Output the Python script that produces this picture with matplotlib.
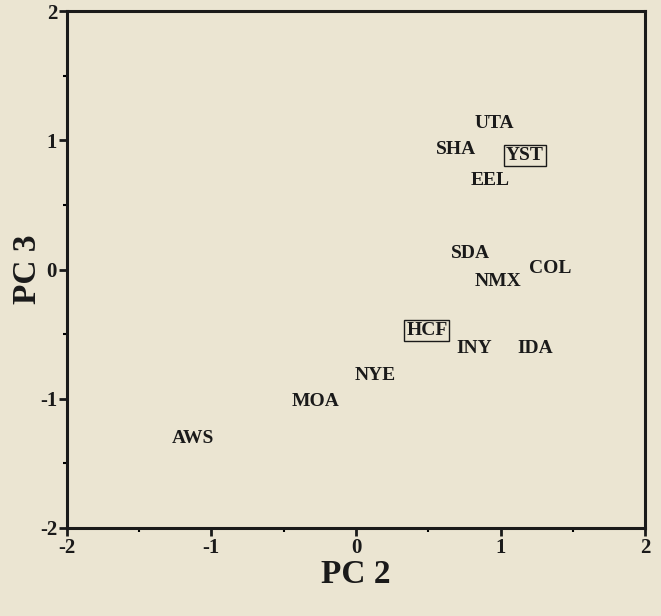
import matplotlib
matplotlib.use("Agg")
import matplotlib.pyplot as plt
from matplotlib.ticker import MultipleLocator

# population scores on PC 2 / PC 3
labels = ["UTA", "SHA", "YST", "EEL", "SDA", "NMX", "COL",
          "HCF", "INY", "IDA", "NYE", "MOA", "AWS"]
pc2 = [0.96, 0.69, 1.17, 0.93, 0.79, 0.98, 1.34,
       0.49, 0.82, 1.24, 0.13, -0.28, -1.13]
pc3 = [1.13, 0.93, 0.88, 0.69, 0.12, -0.09, 0.01,
       -0.47, -0.61, -0.61, -0.82, -1.02, -1.31]
boxed = ["YST", "HCF"]

bg = "#ebe5d2"
plt.rcParams["font.family"] = ["Liberation Serif", "DejaVu Serif"]
plt.rcParams["axes.unicode_minus"] = False

fig = plt.figure(figsize=(6.61, 6.16), dpi=100, facecolor=bg)
ax = fig.add_axes([0.101, 0.143, 0.875, 0.839])
ax.set_facecolor(bg)

for lab, x, y in zip(labels, pc2, pc3):
    kw = {}
    if lab in boxed:
        kw["bbox"] = dict(boxstyle="square,pad=0.1", fc="none", ec="#1a1a1a", lw=1.0)
    ax.text(x, y, lab, ha="center", va="center", fontsize=14,
            fontweight="bold", color="#1a1a1a", **kw)

ax.set_xlim(-2, 2)
ax.set_ylim(-2, 2)
ax.xaxis.set_major_locator(MultipleLocator(1))
ax.yaxis.set_major_locator(MultipleLocator(1))
ax.xaxis.set_minor_locator(MultipleLocator(0.5))
ax.yaxis.set_minor_locator(MultipleLocator(0.5))
ax.tick_params(which="major", direction="out", length=6, width=2, labelsize=15,
               colors="#1a1a1a", pad=1)
ax.tick_params(which="minor", direction="out", length=3, width=1.5)
for t in ax.get_xticklabels() + ax.get_yticklabels():
    t.set_fontweight("bold")
for s in ax.spines.values():
    s.set_linewidth(2.2)
    s.set_color("#1a1a1a")

ax.set_xlabel("PC 2", fontsize=24, fontweight="bold", color="#1a1a1a", labelpad=1)
ax.set_ylabel("PC 3", fontsize=24, fontweight="bold", color="#1a1a1a", labelpad=-2)

fig.savefig("out.png", dpi=100, facecolor=bg)
